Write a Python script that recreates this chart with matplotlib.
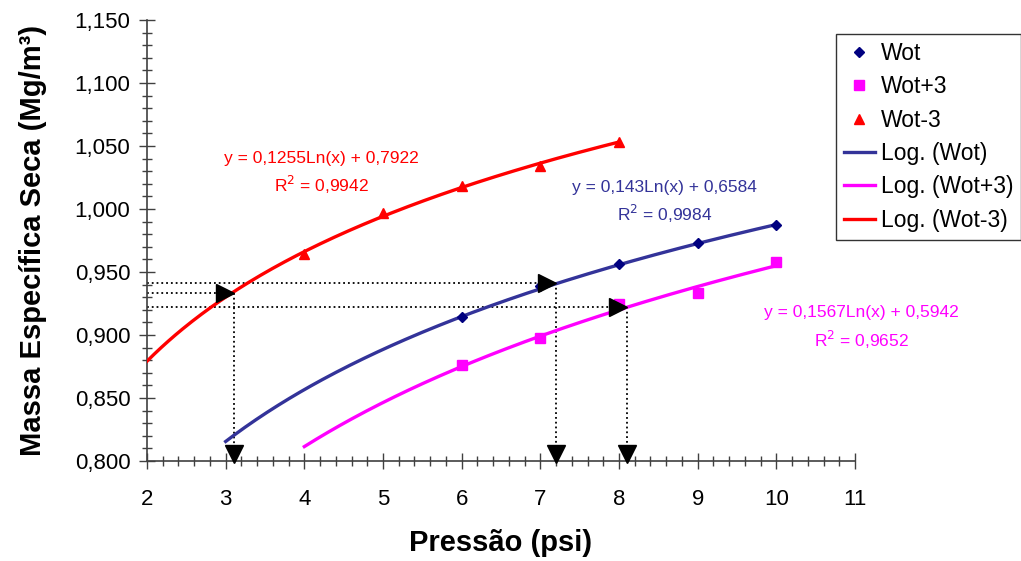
import numpy as np
import matplotlib
matplotlib.use('Agg')
from matplotlib import pyplot as plt
from matplotlib.ticker import MultipleLocator, FuncFormatter

plt.rcParams['font.family'] = ['Liberation Sans', 'DejaVu Sans']

# ---------------- data ----------------
x_wot = [6, 7, 8, 9, 10]
y_wot = [0.914, 0.939, 0.956, 0.973, 0.987]

x_wot_p3 = [6, 7, 8, 9, 10]
y_wot_p3 = [0.876, 0.898, 0.925, 0.933, 0.958]

x_wot_m3 = [4, 5, 6, 7, 8]
y_wot_m3 = [0.964, 0.997, 1.018, 1.034, 1.053]

# trend lines: y = a*ln(x) + b  (coefficients shown on chart)
fit_wot = (0.143, 0.6584, 3, 10)
fit_wot_p3 = (0.1567, 0.5942, 4, 10)
fit_wot_m3 = (0.1255, 0.7922, 2, 8)

# guide lines (read-off points)
guide_x = [3.1, 7.2, 8.1]
guide_y = [0.933, 0.941, 0.922]

c_navy = '#000080'
c_line = '#333399'
c_mag = '#FF00FF'
c_red = '#FF0000'

fig = plt.figure(figsize=(10.21, 5.61), dpi=100)
ax = fig.add_axes([147/1021, 100/561, 708/1021, 441/561])

def trend(fit):
    a, b, x0, x1 = fit
    xx = np.linspace(x0, x1, 200)
    return xx, a*np.log(xx) + b

xx, yy = trend(fit_wot)
ax.plot(xx, yy, color=c_line, lw=2.4, label='Log. (Wot)', zorder=3)
xx, yy = trend(fit_wot_p3)
ax.plot(xx, yy, color=c_mag, lw=2.4, label='Log. (Wot+3)', zorder=3)
xx, yy = trend(fit_wot_m3)
ax.plot(xx, yy, color=c_red, lw=2.4, label='Log. (Wot-3)', zorder=3)

ax.plot(x_wot, y_wot, 'D', color=c_navy, ms=5, ls='none', label='Wot', zorder=4)
ax.plot(x_wot_p3, y_wot_p3, 's', color=c_mag, ms=7, ls='none', label='Wot+3', zorder=4)
ax.plot(x_wot_m3, y_wot_m3, '^', color=c_red, ms=7, ls='none', label='Wot-3', zorder=4)

# dotted guides and arrows
for gx, gy in zip(guide_x, guide_y):
    ax.plot([2, gx], [gy, gy], color='black', ls=':', lw=1.3, zorder=2)
    ax.plot([gx, gx], [gy, 0.800], color='black', ls=':', lw=1.3, zorder=2)
    ax.plot(gx - 0.11, gy, marker='>', color='black', ms=13, zorder=5)
    ax.plot(gx, 0.8055, marker='v', color='black', ms=13, zorder=5, clip_on=False)

# equation labels
ax.text(4.22, 1.040, 'y = 0,1255Ln(x) + 0,7922', color=c_red, fontsize=12.5, ha='center', va='center')
ax.text(4.22, 1.019, 'R$^2$ = 0,9942', color=c_red, fontsize=12.5, ha='center', va='center')
ax.text(8.58, 1.017, 'y = 0,143Ln(x) + 0,6584', color=c_line, fontsize=12.5, ha='center', va='center')
ax.text(8.58, 0.996, 'R$^2$ = 0,9984', color=c_line, fontsize=12.5, ha='center', va='center')
ax.text(11.08, 0.918, 'y = 0,1567Ln(x) + 0,5942', color=c_mag, fontsize=12.5, ha='center', va='center', clip_on=False)
ax.text(11.08, 0.896, 'R$^2$ = 0,9652', color=c_mag, fontsize=12.5, ha='center', va='center', clip_on=False)

ax.set_xlim(2, 11)
ax.set_ylim(0.800, 1.150)
ax.xaxis.set_major_locator(MultipleLocator(1))
ax.xaxis.set_minor_locator(MultipleLocator(0.2))
ax.yaxis.set_major_locator(MultipleLocator(0.05))
ax.yaxis.set_minor_locator(MultipleLocator(0.01))
ax.yaxis.set_major_formatter(FuncFormatter(lambda v, p: ('%.3f' % v).replace('.', ',')))
ax.tick_params(which='major', direction='inout', length=12, width=1, color='#404040', labelsize=16, pad=6)
ax.tick_params(which='minor', direction='inout', length=7, width=1, color='#404040')
ax.tick_params(axis='x', pad=14)

for s in ['top', 'right']:
    ax.spines[s].set_visible(False)
for s in ['left', 'bottom']:
    ax.spines[s].set_color('#404040')
    ax.spines[s].set_linewidth(1.2)

ax.set_xlabel('Pressão (psi)', fontsize=21, fontweight='bold', labelpad=14)
ax.set_ylabel('Massa Específica Seca (Mg/m³)', fontsize=21, fontweight='bold', labelpad=20)

h, l = ax.get_legend_handles_labels()
order = [3, 4, 5, 0, 1, 2]
leg = fig.legend([h[i] for i in order], [l[i] for i in order], loc='upper left',
                 bbox_to_anchor=(836/1021, 1 - 34/561), fontsize=16.5, frameon=True,
                 fancybox=False, edgecolor='black', handlelength=1.35, labelspacing=0.45,
                 borderpad=0.35, handletextpad=0.25, borderaxespad=0)
leg.get_frame().set_linewidth(1)

plt.savefig('out.png', dpi=100)
